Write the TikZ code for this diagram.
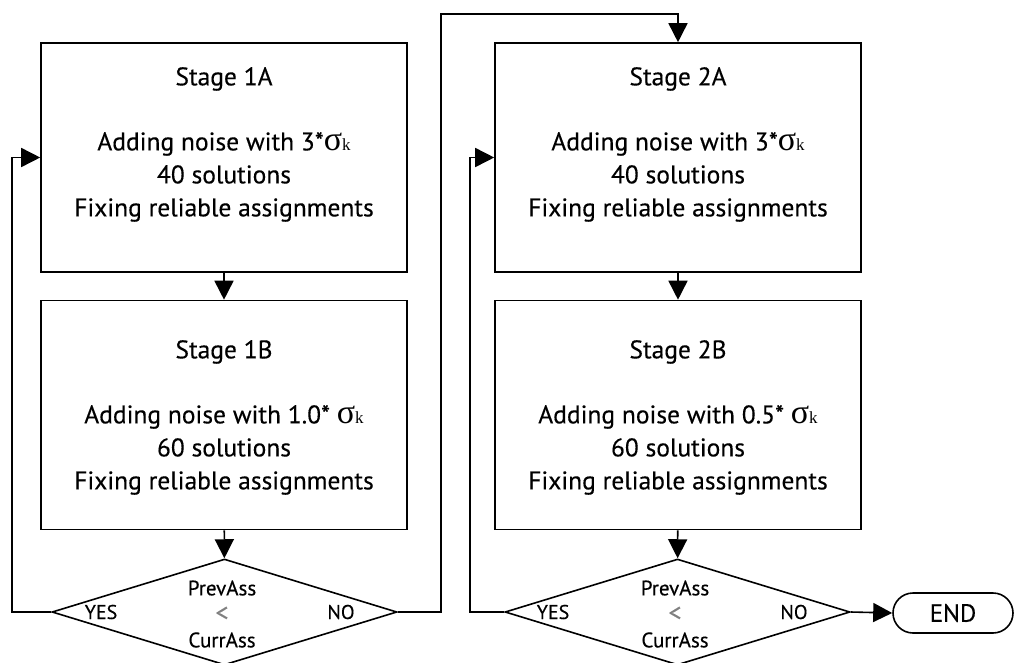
\documentclass[tikz,border=0pt]{standalone}
\usepackage{fontspec}
\setmainfont{PT Sans}[FakeBold=0.3]
\newfontfamily\sigf{Liberation Serif}
\usetikzlibrary{shapes.geometric,shapes.misc,arrows.meta}
\newcommand{\sigk}{{\sigf\fontsize{34}{32}\selectfont σ\fontsize{17}{17}\selectfont k}}
\newcommand{\lessmark}{{\color{gray}\fontsize{26}{26}\selectfont <}}
\tikzset{
  stagebox/.style={draw, line width=1.6pt, minimum width=366pt, minimum height=229pt, inner sep=0pt},
  stagetxt/.style={align=center, inner sep=0pt, anchor=north, font=\fontsize{25.5}{33}\selectfont},
  decision/.style={draw, diamond, line width=1.6pt, aspect=3.25, minimum width=345pt, minimum height=106pt, inner sep=0pt},
  dtxt/.style={align=center, inner sep=0pt, font=\fontsize{21}{26}\selectfont},
  ltxt/.style={inner sep=0pt, font=\fontsize{20}{26}\selectfont},
  endnode/.style={draw, rounded rectangle, line width=1.6pt, minimum width=120pt, minimum height=40pt, inner sep=0pt, font=\fontsize{25}{28}\selectfont},
  arr/.style={line width=1.6pt, -{Triangle[length=19pt,width=19pt]}},
}
\begin{document}
\begin{tikzpicture}[x=1pt,y=-1pt]
\useasboundingbox (0,0) rectangle (1015,662);
% boxes
\node[stagebox] (b1a) at (224,157.5) {};
\node[stagebox] (b1b) at (224,415) {};
\node[stagebox] (b2a) at (678,157.5) {};
\node[stagebox] (b2b) at (678,415) {};
% texts
\node[stagetxt] (t1a) at (224,67) {Stage 1A\\[32pt]Adding noise with 3*\sigk\\40 solutions\\Fixing reliable assignments};
\node[stagetxt] (t1b) at (224,340) {Stage 1B\\[32pt]Adding noise with 1.0* \sigk\\60 solutions\\Fixing reliable assignments};
\node[stagetxt] (t2a) at (678,67) {Stage 2A\\[32pt]Adding noise with 3*\sigk\\40 solutions\\Fixing reliable assignments};
\node[stagetxt] (t2b) at (678,340) {Stage 2B\\[32pt]Adding noise with 0.5* \sigk\\60 solutions\\Fixing reliable assignments};
% decisions
\node[decision] (d1) at (224.5,612) {};
\node[decision] (d2) at (677.5,612) {};
\node[dtxt] (q1) at (222,614) {PrevAss\\\lessmark\\CurrAss};
\node[dtxt] (q2) at (675,614) {PrevAss\\\lessmark\\CurrAss};
\node[ltxt] (y1) at (101,612) {YES};
\node[ltxt] (n1) at (341,612) {NO};
\node[ltxt] (y2) at (553,612) {YES};
\node[ltxt] (n2) at (794,612) {NO};
% end
\node[endnode] (end) at (953,613) {END};
% connectors
\coordinate (l1) at (12,612);
\coordinate (l2) at (470,612);
\coordinate (up) at (441,14);
\draw[arr] (b1a) -- (b1b);
\draw[arr] (b1b) -- (d1);
\draw[arr] (b2a) -- (b2b);
\draw[arr] (b2b) -- (d2);
\draw[arr] (d1.west) -- (l1) |- (b1a.west);
\draw[arr] (d2.west) -- (l2) |- (b2a.west);
\draw[arr] (d1.east) -| (up) -| (b2a.north);
\draw[arr] (d2.east) -- (end.west);
\end{tikzpicture}
\end{document}
